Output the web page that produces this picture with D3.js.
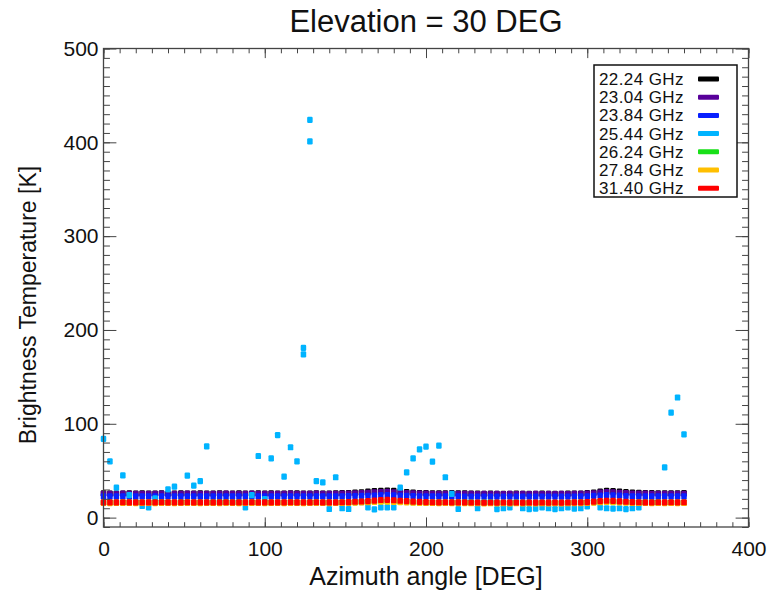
<!DOCTYPE html>
<html><head><meta charset="utf-8">
<script src="https://cdn.jsdelivr.net/npm/d3@7"></script>
<style>body{margin:0;background:#fff}svg{display:block}</style>
</head><body>
<svg id="c" width="772" height="592"></svg>
<script>
// ---- data ----
const azimuth = [0,4,8,12,16,20,24,28,32,36,40,44,48,52,56,60,64,68,72,76,80,84,88,92,96,100,104,108,112,116,120,124,128,132,136,140,144,148,152,156,160,164,168,172,176,180,184,188,192,196,200,204,208,212,216,220,224,228,232,236,240,244,248,252,256,260,264,268,272,276,280,284,288,292,296,300,304,308,312,316,320,324,328,332,336,340,344,348,352,356,360];

const tb2224 = [25.8,25.6,25.7,25.6,25.9,25.6,25.8,25.7,25.6,25.8, 25.7,25.6,25.9,25.7,25.6,25.8,25.7,25.6,25.8,25.7, 25.6,25.8,25.7,25.6,25.9,25.7,25.8,25.6,25.7,25.8, 25.9,25.7,25.6,25.8,25.7,25.6,25.8,26.0,26.2,26.6, 27.0,27.6, 28.2,28.6,28.8,28.4,28.0, 27.3,26.6,26.2,26.0,25.8,25.9,25.8,26.0,25.9,25.8, 25.6,25.5,25.4,25.5,25.4,25.3,25.4,25.5,25.4,25.3, 25.4,25.5,25.4,25.3,25.4,25.5,25.6,25.7,26.0,26.6, 27.8,28.6,28.3,27.8, 27.1,26.6,26.3,26.1,26.0,25.9,25.8,25.9,25.8,26.0];

const tb2304 = [25.4,25.3,25.4,25.5,25.4,25.3,25.4,25.4,25.3,25.5, 25.4,25.3,25.4,25.5,25.4,25.3,25.4,25.4,25.3,25.5, 25.4,25.3,25.4,25.5,25.4,25.3,25.4,25.4,25.3,25.5, 25.4,25.3,25.4,25.5,25.4,25.3,25.4,25.5,25.6,25.8, 26.0,26.3, 26.8,27.2,27.4,27.0,26.6, 26.1,25.8,25.6,25.5,25.4,25.4,25.3,25.4,25.3,25.3, 25.2,25.1,25.2,25.1,25.2,25.1,25.2,25.1,25.2,25.1, 25.2,25.1,25.2,25.1,25.2,25.1,25.2,25.3,25.5,25.9, 26.6,27.2,27.0,26.5, 26.0,25.7,25.6,25.5,25.4,25.4,25.3,25.4,25.3,25.4];

const tb2384 = [22.7,22.6,22.7,22.8,22.7,22.6,22.7,22.7,22.6,22.8, 22.7,22.6,22.7,22.8,22.7,22.6,22.7,22.7,22.6,22.8, 22.7,22.6,22.7,22.8,22.7,22.6,22.7,22.7,22.6,22.8, 22.7,22.6,22.7,22.8,22.7,22.6,22.7,22.8,22.9,23.0, 23.1,23.3, 23.6,23.9,24.0,23.7,23.4, 23.1,22.9,22.8,22.7,22.7,22.6,22.7,22.6,22.6,22.5, 22.4,22.4,22.3,22.4,22.3,22.4,22.3,22.4,22.3,22.4, 22.3,22.4,22.3,22.4,22.3,22.4,22.5,22.6,22.8,23.1, 23.6,23.9,23.7,23.4, 23.0,22.8,22.7,22.7,22.6,22.7,22.6,22.7,22.6,22.7];

const tb2544 = [84,60,32,45,24,16.5,12.4,11,20.6,16.5, 30.2,33,16.5,44.7,34,39,76,16.5,16.5,16.5, 16.5,16.5,11,24,65.7,19.8,63.2,88,43.6,75, 60,181,424,39,37.6,9.2,43,10,9.2,16.5, 16.5,11,8.8,11,11,11,31.9,48.3,63.2,72.8, 75.6,59.6,76.7,43,25.2,9.2,16.5,16.5,10,16.5, 16.5,9,10,11,16.5,10,9,9.5,11,10, 9,10,11,9.5,10,12,16.5,11,10,9.5, 10,9,10,11,16.5,16.5,16.5,53.6,112,128,88.8];
// second samples of 25.44 GHz at the same azimuth
const tb2544ExtraAz = [124,128];
const tb2544Extra = [174,401];

const tb2624 = [16.0,16.1,16.0,16.2,16.0,16.1,16.0,16.1,16.0,16.2, 16.0,16.1,16.0,16.2,16.0,16.1,16.0,16.1,16.0,16.2, 16.0,16.1,16.0,16.2,16.0,16.1,16.0,16.1,16.0,16.2, 16.0,16.1,16.0,16.2,16.0,16.1,16.0,16.2,16.3,16.5, 16.7,16.9, 17.2,17.5,17.6,17.3,17.0, 16.7,16.4,16.2,16.1,16.0,16.0,15.9,16.0,15.9,15.9, 15.8,15.8,15.7,15.8,15.7,15.8,15.7,15.8,15.7,15.8, 15.7,15.8,15.7,15.8,15.7,15.8,15.9,16.0,16.2,16.5, 16.9,17.2,17.0,16.7, 16.4,16.2,16.1,16.0,16.0,16.1,16.0,16.1,16.0,16.1];

const tb2784 = [15.6,15.5,15.6,15.7,15.6,15.5,15.6,15.6,15.5,15.7, 15.6,15.5,15.6,15.7,15.6,15.5,15.6,15.6,15.5,15.7, 15.6,15.5,15.6,15.7,15.6,15.5,15.6,15.6,15.5,15.7, 15.6,15.5,15.6,15.7,15.6,15.5,15.6,15.7,15.8,16.0, 16.2,16.4, 16.7,17.0,17.1,16.8,16.5, 16.2,15.9,15.7,15.6,15.6,15.5,15.6,15.5,15.5,15.4, 15.3,15.3,15.2,15.3,15.2,15.3,15.2,15.3,15.2,15.3, 15.2,15.3,15.2,15.3,15.2,15.3,15.4,15.5,15.7,16.0, 16.4,16.7,16.5,16.2, 15.9,15.7,15.6,15.6,15.5,15.6,15.5,15.6,15.5,15.6];

const tb3140 = [16.3,16.2,16.3,16.4,16.3,16.2,16.3,16.3,16.2,16.4, 16.3,16.2,16.3,16.4,16.3,16.2,16.3,16.3,16.2,16.4, 16.3,16.2,16.3,16.4,16.3,16.2,16.3,16.3,16.2,16.4, 16.3,16.2,16.3,16.4,16.3,16.2,16.3,16.4,16.6,16.9, 17.2,17.6, 18.2,18.8,19.0,18.5,18.0, 17.5,17.0,16.7,16.5,16.4,16.3,16.4,16.3,16.3,16.2, 16.1,16.1,16.0,16.1,16.0,16.1,16.0,16.1,16.0,16.1, 16.0,16.1,16.0,16.1,16.0,16.1,16.2,16.3,16.6,17.0, 17.6,18.0,17.8,17.3, 16.9,16.6,16.4,16.3,16.3,16.4,16.3,16.4,16.3,16.4];

const channelLabels = ["22.24 GHz","23.04 GHz","23.84 GHz","25.44 GHz","26.24 GHz","27.84 GHz","31.40 GHz"];
const channelColors = ["#000000","#58009a","#0820ff","#00b4ff","#18e018","#ffbf00","#ff0000"];
const channelValues = [tb2224,tb2304,tb2384,tb2544,tb2624,tb2784,tb3140];

const xTicks = [0,100,200,300,400];
const yTicks = [0,100,200,300,400,500];
const xMinor = [0,10,20,30,40,50,60,70,80,90,100,110,120,130,140,150,160,170,180,190,200,210,220,230,240,250,260,270,280,290,300,310,320,330,340,350,360,370,380,390,400];
const yMinor = [-10,0,10,20,30,40,50,60,70,80,90,100,110,120,130,140,150,160,170,180,190,200,210,220,230,240,250,260,270,280,290,300,310,320,330,340,350,360,370,380,390,400,410,420,430,440,450,460,470,480,490,500];

// ---- chart ----
const svg = d3.select("#c");
const L=103.5, R=748.5, T=48.5, B=527;
const x = d3.scaleLinear().domain([0,400]).range([L,R]);
const y = d3.scaleLinear().domain([-10,500]).range([B,T]);
const FONT = "'Liberation Sans', Arial, Helvetica, sans-serif";
const axisCol = "#444";

// data marks
const mw = 5.5, mh = 6.2;
channelValues.forEach((vals, ci) => {
  const g = svg.append("g").attr("fill", channelColors[ci]);
  g.selectAll("rect").data(azimuth.map((a,i)=>[a, vals[i]])).join("rect")
    .attr("x", d => x(d[0]) - mw/2)
    .attr("y", d => y(d[1]) - mh/2)
    .attr("width", mw).attr("height", mh).attr("rx", 1.2);
  if (ci === 3) {
    g.selectAll("rect.ex").data(tb2544ExtraAz.map((a,i)=>[a, tb2544Extra[i]])).join("rect")
      .attr("class","ex")
      .attr("x", d => x(d[0]) - mw/2)
      .attr("y", d => y(d[1]) - mh/2)
      .attr("width", mw).attr("height", mh).attr("rx", 1.2);
  }
});

function styleAxis(g){
  g.select(".domain").remove();
  g.selectAll(".tick line").attr("stroke", axisCol).attr("stroke-width", 1);
  g.selectAll(".tick text").attr("fill","#111").style("font-family", FONT).style("font-size","21px");
}
const xMaj = 9.6, yMaj = 12.9;
// bottom
svg.append("g").attr("transform",`translate(0,${B})`)
  .call(d3.axisBottom(x).tickValues(xMinor).tickSize(-xMaj/2).tickFormat("")).call(styleAxis);
svg.append("g").attr("transform",`translate(0,${B})`)
  .call(d3.axisBottom(x).tickValues(xTicks).tickSize(-xMaj).tickPadding(14).tickFormat(d3.format("d"))).call(styleAxis);
// top
svg.append("g").attr("transform",`translate(0,${T})`)
  .call(d3.axisTop(x).tickValues(xMinor).tickSize(-xMaj/2).tickFormat("")).call(styleAxis);
svg.append("g").attr("transform",`translate(0,${T})`)
  .call(d3.axisTop(x).tickValues(xTicks).tickSize(-xMaj).tickFormat("")).call(styleAxis);
// left
svg.append("g").attr("transform",`translate(${L},0)`)
  .call(d3.axisLeft(y).tickValues(yMinor).tickSize(-yMaj/2).tickFormat("")).call(styleAxis);
svg.append("g").attr("transform",`translate(${L},0)`)
  .call(d3.axisLeft(y).tickValues(yTicks).tickSize(-yMaj).tickPadding(5).tickFormat(d3.format("d"))).call(styleAxis);
// right
svg.append("g").attr("transform",`translate(${R},0)`)
  .call(d3.axisRight(y).tickValues(yMinor).tickSize(-yMaj/2).tickFormat("")).call(styleAxis);
svg.append("g").attr("transform",`translate(${R},0)`)
  .call(d3.axisRight(y).tickValues(yTicks).tickSize(-yMaj).tickFormat("")).call(styleAxis);

// frame
svg.append("rect").attr("x",L).attr("y",T).attr("width",R-L).attr("height",B-T)
  .attr("fill","none").attr("stroke",axisCol).attr("stroke-width",1.3);

// titles
svg.append("text").attr("x",(L+R)/2).attr("y",32).attr("text-anchor","middle")
  .style("font-family",FONT).style("font-size","31px").attr("fill","#111").text("Elevation = 30 DEG");
svg.append("text").attr("x",(L+R)/2).attr("y",585).attr("text-anchor","middle")
  .style("font-family",FONT).style("font-size","25px").attr("fill","#111").text("Azimuth angle [DEG]");
svg.append("text").attr("transform",`translate(36,305) rotate(-90)`).attr("text-anchor","middle")
  .style("font-family",FONT).style("font-size","23px").attr("fill","#111").text("Brightness Temperature [K]");

// legend
const lg = svg.append("g");
lg.append("rect").attr("x",594).attr("y",65).attr("width",143).attr("height",132)
  .attr("fill","#fff").attr("stroke","#111").attr("stroke-width",1.5);
channelLabels.forEach((lab,i)=>{
  const cy = 79 + i*18.2;
  lg.append("text").attr("x",599).attr("y",cy+6).style("font-family",FONT)
    .style("font-size","17px").style("letter-spacing","0.4px").attr("fill","#111").text(lab);
  lg.append("rect").attr("x",698).attr("y",cy-2.5).attr("width",21).attr("height",5)
    .attr("rx",1).attr("fill",channelColors[i]);
});
</script>
</body></html>
